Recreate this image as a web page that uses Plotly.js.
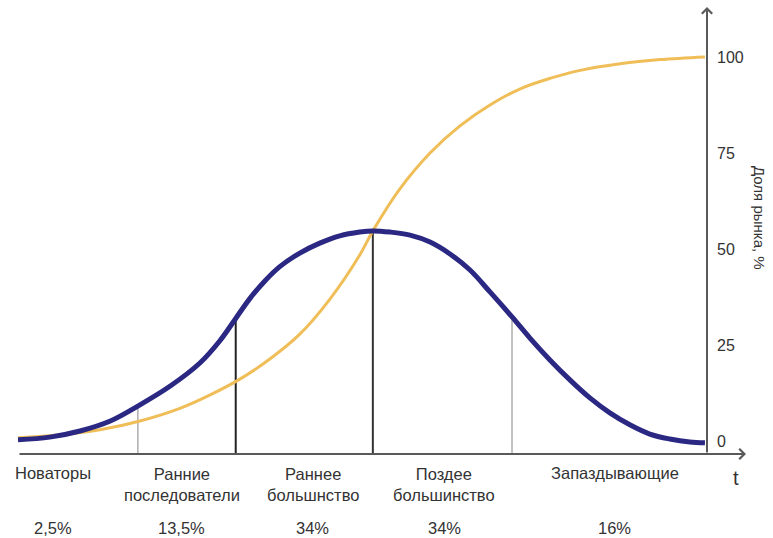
<!DOCTYPE html>
<html>
<head>
<meta charset="utf-8">
<script src="https://cdn.plot.ly/plotly-3.0.1.min.js"></script>
<style>html,body{margin:0;padding:0;background:#fff;}#chart{width:773px;height:538px;}</style>
</head>
<body>
<div id="chart"></div>
<script>
// ---- data ----
const bellT = [0, 4.6, 9.0, 13.4, 17.7, 22.1, 26.4, 29.3, 31.6, 33.7, 35.9, 38.0, 40.9, 43.8, 46.7, 49.6, 51.5, 54.0, 56.9, 59.8, 62.7, 65.6, 68.5, 71.7, 74.3, 77.2, 80.1, 83.0, 85.9, 88.8, 91.7, 94.6, 97.5, 99.7];
const bellY = [0.3, 1.0, 2.6, 5.2, 9.4, 14.3, 20.3, 26.1, 31.9, 37.2, 41.8, 45.4, 48.9, 51.5, 53.4, 54.4, 54.7, 54.4, 53.6, 51.8, 48.7, 44.5, 38.8, 32.3, 26.8, 21.1, 15.9, 11.2, 7.3, 4.2, 1.8, 0.5, -0.3, -0.5];
const sT = [0, 6.1, 11.9, 17.7, 23.5, 27.9, 32.2, 36.6, 40.9, 45.3, 49.6, 51.5, 55.4, 59.8, 64.1, 68.5, 72.9, 77.2, 81.6, 87.4, 93.2, 99.7];
const sY = [0.8, 1.6, 2.9, 5.2, 8.5, 12.0, 16.1, 21.4, 27.8, 37.0, 48.4, 54.7, 65.6, 75.0, 82.0, 87.5, 91.7, 94.4, 96.5, 98.2, 99.3, 100];
const boundaries = [17.4, 31.6, 51.5, 71.7];
const boundaryTops = [9.0, 31.9, 54.7, 32.3];
const categories = [["Новаторы"], ["Ранние", "последователи"], ["Раннее", "большнство"], ["Поздее", "большинство"], ["Запаздывающие"]];
const shares = ["2,5%", "13,5%", "34%", "34%", "16%"];
const yTicks = [0, 25, 50, 75, 100];
const yTitle = "Доля рынка, %";
const xTitle = "t";

// ---- layout / style ----
const Y_MIN = -3.4, Y_MAX = 113, X_MAX = 105.66;
const labelX = [5.1, 23.8, 42.8, 61.9, 86.6];
const boundaryStyles = [
  {color: '#9a9a9a', width: 1.2},
  {color: '#222222', width: 2},
  {color: '#333333', width: 2},
  {color: '#9a9a9a', width: 1.2}
];
const FONT = 'Liberation Sans, Arial, sans-serif';
const TXT = '#333333';

const traces = [];
boundaries.forEach((b, i) => {
  traces.push({x: [b, b], y: [Y_MIN, boundaryTops[i]], mode: 'lines',
    line: {color: boundaryStyles[i].color, width: boundaryStyles[i].width},
    hoverinfo: 'skip', showlegend: false, cliponaxis: false});
});
traces.push({x: sT, y: sY, mode: 'lines', line: {color: '#F0BE58', width: 3, shape: 'spline', smoothing: 1}, showlegend: false});
traces.push({x: bellT, y: bellY, mode: 'lines', line: {color: '#2A2882', width: 5, shape: 'spline', smoothing: 1}, showlegend: false});

const annotations = [];
// axis arrows
annotations.push({xref: 'paper', yref: 'paper', x: 1, y: 0, ax: -728, ay: 0, axref: 'pixel', ayref: 'pixel',
  showarrow: true, arrowhead: 4, arrowsize: 1, arrowwidth: 2, arrowcolor: '#595959', text: ''});
annotations.push({xref: 'paper', yref: 'paper', x: 689/728, y: 1, ax: 0, ay: 447, axref: 'pixel', ayref: 'pixel',
  showarrow: true, arrowhead: 4, arrowsize: 1, arrowwidth: 2, arrowcolor: '#595959', text: ''});
// category labels
categories.forEach((lines, i) => {
  annotations.push({xref: 'x', yref: 'paper', x: labelX[i], y: (454 - 473) / 447, yanchor: 'middle',
    text: lines.join('<br>'), showarrow: false,
    font: {family: FONT, size: 16.5, color: TXT}, yshift: lines.length > 1 ? -11.5 : 0});
  annotations.push({xref: 'x', yref: 'paper', x: labelX[i], y: (454 - 528) / 447, yanchor: 'middle',
    text: shares[i], showarrow: false, font: {family: FONT, size: 16.5, color: TXT}});
});
annotations.push({xref: 'paper', yref: 'paper', x: (741 - 18) / 728, y: (454 - 478) / 447, yanchor: 'middle',
  text: xTitle, showarrow: false, font: {family: FONT, size: 20, color: TXT}});
annotations.push({xref: 'paper', yref: 'paper', x: (760 - 18) / 728, y: (454 - 218) / 447, yanchor: 'middle', xanchor: 'center',
  text: yTitle, textangle: 90, showarrow: false, font: {family: FONT, size: 15, color: TXT}});

const layout = {
  width: 773, height: 538,
  margin: {l: 18, r: 27, t: 7, b: 84, pad: 0},
  paper_bgcolor: '#ffffff', plot_bgcolor: '#ffffff',
  xaxis: {range: [0, X_MAX], visible: false, fixedrange: true},
  yaxis: {range: [Y_MIN, Y_MAX], anchor: 'free', position: 689 / 728, side: 'right',
    tickvals: yTicks, ticktext: yTicks.map(String), showgrid: false, zeroline: false, showline: false,
    ticks: '', ticklabelstandoff: 9, tickfont: {family: FONT, size: 16, color: TXT}, fixedrange: true},
  showlegend: false,
  annotations: annotations
};

Plotly.newPlot('chart', traces, layout, {displayModeBar: false, staticPlot: true});
</script>
</body>
</html>
